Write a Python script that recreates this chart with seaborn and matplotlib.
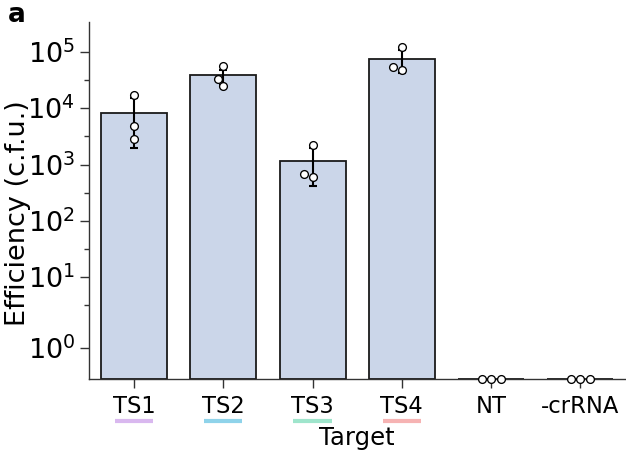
import numpy as np
import pandas as pd
import matplotlib
matplotlib.use("Agg")
import matplotlib.pyplot as plt
import matplotlib.ticker as mticker
import matplotlib.transforms as mtransforms
import seaborn as sns

# Colony counts (c.f.u.) for three replicates per target
targets = ["TS1", "TS2", "TS3", "TS4", "NT", "-crRNA"]
ts1_cfu = [17300, 4750, 2830]
ts2_cfu = [56900, 33400, 24400]
ts3_cfu = [2240, 684, 588]
ts4_cfu = [122000, 53900, 46900]
nt_cfu = [0, 0, 0]
nocr_cfu = [0, 0, 0]

# Error-bar extents for the four targeting spacers
err_low = [1960, 26000, 418, 42200]
err_high = [15100, 48300, 1960, 109000]

# Underline colours for the targeting spacers
underline_colors = ["#d9b8ef", "#8fd3ea", "#9fe5cc", "#f6b3b3"]

replicates = [ts1_cfu, ts2_cfu, ts3_cfu, ts4_cfu, nt_cfu, nocr_cfu]
df = pd.DataFrame({
    "Target": np.repeat(targets, [len(r) for r in replicates]),
    "cfu": np.concatenate(replicates).astype(float),
})

sns.set_style("ticks")
plt.rcParams["font.family"] = ["DejaVu Sans"]
plt.rcParams["mathtext.fontset"] = "dejavusans"
plt.rcParams["text.color"] = "black"
plt.rcParams["axes.labelcolor"] = "black"
plt.rcParams["xtick.color"] = "#333333"
plt.rcParams["ytick.color"] = "#333333"
plt.rcParams["xtick.labelcolor"] = "black"
plt.rcParams["ytick.labelcolor"] = "black"

fig = plt.figure(figsize=(6.26, 4.53), dpi=100)
ax = fig.add_axes([0.1428, 0.1634, 0.8556, 0.788])

# Arithmetic mean of the replicates as bar height (computed on a linear axis)
sns.barplot(data=df, x="Target", y="cfu", order=targets, estimator="mean",
            errorbar=None, color="#cbd6e9", saturation=1, width=0.74,
            edgecolor="#1a1a1a", linewidth=1.3, ax=ax)

means = df.groupby("Target", sort=False)["cfu"].mean().reindex(targets).values
n_err = len(err_low)
xpos = np.arange(n_err)
yerr = np.vstack([means[:n_err] - np.array(err_low),
                  np.array(err_high) - means[:n_err]])
ax.errorbar(xpos, means[:n_err], yerr=yerr, fmt="none", ecolor="black",
            elinewidth=1.5, capsize=3.2, capthick=1.5, zorder=4)

sns.swarmplot(data=df, x="Target", y="cfu", order=targets, color="white",
              edgecolor="black", linewidth=0.95, size=5.6, ax=ax, zorder=5)
for coll in ax.collections:
    coll.set_clip_on(False)

ax.set_yscale("symlog", linthresh=2, linscale=1)
ax.set_xlim(-0.5, 5.5)
ax.set_ylim(0, 3.4e5)

ax.yaxis.set_major_locator(mticker.FixedLocator([10.0 ** k for k in range(6)]))
ax.yaxis.set_minor_locator(mticker.FixedLocator([10.0 ** (k + 0.5) for k in range(5)]))
ax.yaxis.set_major_formatter(
    mticker.FuncFormatter(lambda v, p: r"$10^{%d}$" % int(round(np.log10(v))) if v > 0 else ""))

ax.tick_params(axis="x", which="major", length=6.8, width=1.0, labelsize=16.3, pad=4.5)
ax.tick_params(axis="y", which="major", length=6.8, width=1.0, labelsize=19.5, pad=3.5)
ax.tick_params(axis="y", which="minor", length=3.6, width=1.0)
for side in ["left", "bottom"]:
    ax.spines[side].set_linewidth(1.0)
    ax.spines[side].set_color("#333333")
sns.despine(ax=ax)

ax.set_xlabel("Target", fontsize=17.5)
ax.xaxis.set_label_coords(0.5, -0.133)
ax.set_ylabel("Efficiency (c.f.u.)", fontsize=19.5)
ax.yaxis.set_label_coords(-0.109, 0.465)

# Coloured bars under the targeting spacer labels
trans = mtransforms.blended_transform_factory(ax.transData, ax.transAxes)
for i, c in enumerate(underline_colors):
    ax.plot([i - 0.215, i + 0.215], [-0.118, -0.118], color=c, lw=3,
            solid_capstyle="butt", transform=trans, clip_on=False)

fig.text(0.012, 0.995, "a", fontsize=19, fontweight="bold", va="top", ha="left",
         color="black")

fig.savefig("out.png", dpi=100)
